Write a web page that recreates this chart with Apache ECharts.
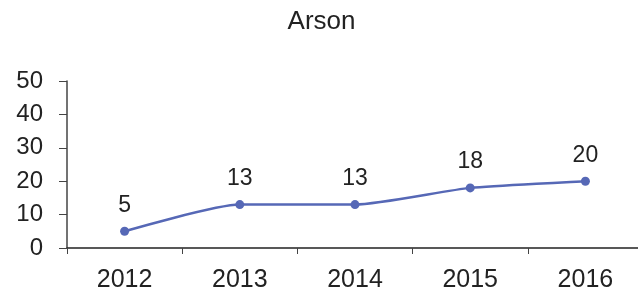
<!DOCTYPE html>
<html>
<head>
<meta charset="utf-8">
<script src="https://cdn.jsdelivr.net/npm/echarts@6/dist/echarts.min.js"></script>
<style>
html,body{margin:0;padding:0;background:#fff;overflow:hidden;}
#main{width:643px;height:294px;}
</style>
</head>
<body>
<div id="main"></div>
<script>
// 数据
var years = ['2012', '2013', '2014', '2015', '2016'];
var arsonCounts = [5, 13, 13, 18, 20];
var yTicks = [0, 10, 20, 30, 40, 50];

var myChart = echarts.init(document.getElementById('main'));
var option = {
	title: {
		text: 'Arson',
		left: 'center',
		top: 4,
		textStyle: {
			fontFamily: 'Liberation Sans',
			fontSize: 26,
			fontWeight: 'normal',
			color: '#222'
		}
	},
	grid: {
		left: 67,
		right: 0,
		top: 81,
		bottom: 46
	},
	xAxis: {
		type: 'category',
		data: years,
		boundaryGap: true,
		axisLine: {lineStyle: {color: '#222', width: 1.5}},
		axisTick: {show: true, length: 6, lineStyle: {color: '#444'}},
		axisLabel: {
			fontFamily: 'Liberation Sans',
			fontSize: 25,
			color: '#222',
			margin: 20
		}
	},
	yAxis: {
		type: 'value',
		min: yTicks[0],
		max: yTicks[yTicks.length - 1],
		interval: 10,
		splitLine: {show: false},
		axisLine: {show: true, lineStyle: {color: '#444', width: 1.5}},
		axisTick: {show: true, length: 8, lineStyle: {color: '#444'}},
		axisLabel: {
			fontFamily: 'Liberation Sans',
			fontSize: 24,
			color: '#222',
			margin: 24
		}
	},
	series: [{
		name: 'Arson',
		type: 'line',
		data: arsonCounts,
		smooth: 0.2,
		symbol: 'circle',
		symbolSize: 9,
		lineStyle: {color: '#5668b6', width: 2.5},
		itemStyle: {color: '#5668b6'},
		label: {
			show: true,
			position: 'top',
			distance: 10,
			fontFamily: 'Liberation Sans',
			fontSize: 23,
			color: '#222'
		}
	}]
};
myChart.setOption(option);
</script>
</body>
</html>
